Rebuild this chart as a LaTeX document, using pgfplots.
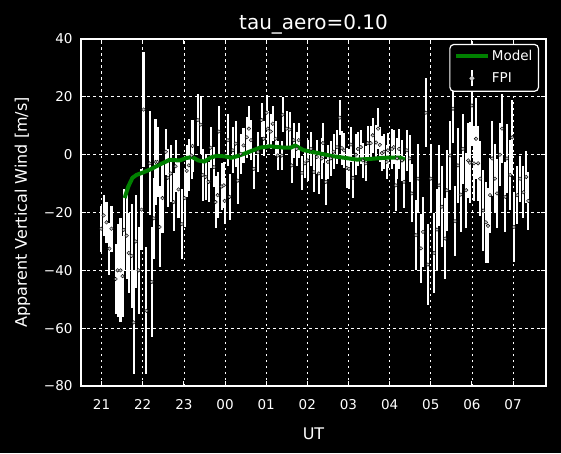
\documentclass[border=0pt]{standalone}
\usepackage{pgfplots}
\pgfplotsset{compat=1.18}
\usepackage{pgfplotstable}
\usepackage{fontspec}
\setmainfont{DejaVu Sans}
\definecolor{mgreen}{rgb}{0,0.5,0}
\definecolor{mgray}{rgb}{0.78,0.78,0.78}

\pgfplotstableread{
x y e
20.99 -25.6 8
21.05 -21 7
21.12 -23.4 7
21.19 -32.5 9
21.24 -25.6 8
21.34 -43 12
21.39 -40 16
21.46 -40 18
21.51 -42 14
21.54 -26 14
21.61 -28 15
21.66 -34 14
21.73 -35 18
21.78 -58 18
21.83 -30 16
21.90 -40 15
21.97 -19 14
22.02 15.6 20
22.09 -54 22
22.17 -3 18
22.22 -44 19
22.27 -22 14
22.31 -2.5 15
22.36 -2.5 12
22.41 -25 14
22.48 -15 12
22.56 1 8
22.61 -8 10
22.68 -6.5 10
22.75 -16.4 10
22.80 -4 9
22.87 -12 10
22.95 -24 12
23.02 -15 10
23.07 -5.6 9
23.12 -3.7 9
23.19 -0.3 8
23.21 3 9
23.34 12 9
23.41 10.4 10
23.46 -7 9
23.53 -7.7 8
23.60 -9.4 7
23.65 2.4 7
23.73 -4.3 7
23.77 -16.4 9
23.82 -14 8
23.85 8 9
23.92 -11 8
23.97 -10.6 8
23.99 -16 8
24.07 5 9
24.11 -14.6 8
24.19 1.5 8
24.26 3.8 8
24.31 -9 8
24.38 0.3 7
24.45 3.2 6
24.53 6 7
24.58 9 8
24.63 5 7
24.70 -4.9 7
24.80 0.9 7
24.89 12 6
24.94 5.5 6
25.01 14.5 6
25.04 9 6
25.11 8 6
25.16 10.7 6
25.23 5.5 6
25.28 -0.3 5
25.38 -0.3 5
25.40 13.8 6
25.50 9 6
25.57 8.7 6
25.62 -3.7 6
25.67 5 6
25.74 2 6
25.79 5 6
25.87 -6.3 6
25.94 -3 5
26.01 -2 7
26.09 2 6
26.16 -6 7
26.23 -0.8 6
26.28 -6.5 7
26.35 -1.3 7
26.38 4 7
26.45 -9.4 8
26.50 -2.5 6
26.57 -1.3 6
26.64 1 6
26.72 2.6 6
26.79 12.8 6
26.84 2.3 6
26.89 1.5 6
26.96 -4.6 7
27.01 -4.9 7
27.06 3.5 6
27.11 -8 7
27.18 0 7
27.23 2 6
27.30 2.6 6
27.35 -2 6
27.42 -3 6
27.47 4 6
27.54 4 6
27.59 6.7 6
27.67 4.2 6
27.72 9 7
27.76 3.4 6
27.81 0.5 6
27.86 1 6
27.93 -2.5 6
27.96 1.5 6
28.06 2 7
28.10 2.6 6
28.15 -10.6 9
28.18 -1.3 7
28.23 2 7
28.30 -2 7
28.35 -9.4 9
28.42 1.5 7
28.49 -1.3 8
28.54 -13.4 10
28.64 -27.8 12
28.69 -8.3 12
28.76 -32.4 12
28.81 -26.7 12
28.88 14.5 12
28.93 -38 14
29.00 -8.3 12
29.08 -34 14
29.15 -25.9 14
29.20 -10.6 14
29.27 -18 14
29.35 -29 14
29.39 -12.3 14
29.47 -0.3 12
29.54 15.9 12
29.59 -23 12
29.66 -3.7 13
29.73 -13.8 13
29.78 2 12
29.86 -12.3 13
29.91 -2 13
29.95 -2.8 14
30.00 17 14
30.05 -3 13
30.10 5.5 14
30.15 -3 13
30.20 -8.3 13
30.27 -19.3 14
30.34 -23.4 14
30.39 -24.6 13
30.44 -14 13
30.49 -1.3 13
30.56 -8.3 12
30.61 -13.4 12
30.68 0 11
30.73 9 12
30.81 -14.6 12
30.85 -1.3 12
30.93 -7 12
30.98 6 13
31.02 -25 12
31.10 -14 10
31.17 -8.3 8
31.25 -13 9
31.32 -7.7 9
31.37 -16 10
}\fpi

\pgfplotstableread{
x y
21.56 -15
21.65 -11
21.75 -8
21.85 -7
22.00 -6.2
22.20 -5
22.40 -3.5
22.55 -2.5
22.65 -1.8
22.90 -2
23.05 -1.2
23.20 -0.8
23.35 -2
23.50 -2.4
23.65 -1
23.80 -0.4
24.00 -0.6
24.15 -1.1
24.30 -0.5
24.50 0.5
24.77 2
24.84 2.4
25.09 2.9
25.45 2.4
25.60 2.4
25.70 3.2
25.90 1.6
26.10 1
26.38 0.2
26.60 -0.5
26.86 -1
27.20 -1.7
27.50 -1.5
27.76 -1.2
28.00 -1
28.25 -1
28.37 -1.7
}\model

\begin{document}
\begin{tikzpicture}
\fill[black] (-81pt,-67pt) rectangle (480pt,386pt);
\begin{axis}[
  at={(0pt,0pt)}, anchor=south west,
  width=465pt, height=347pt, scale only axis,
  xmin=20.5, xmax=31.8, ymin=-80, ymax=40,
  xtick={21,...,31},
  xticklabels={21,22,23,00,01,02,03,04,05,06,07},
  ytick={-80,-60,...,40},
  yticklabels={−80,−60,−40,−20,0,20,40},
  axis line style={white, line width=1.5pt},
  tick style={white, line width=1pt},
  major tick length=5pt,
  tick align=inside,
  tick pos=both,
  grid=major,
  major grid style={white, line width=0.7pt, dash pattern=on 2.5pt off 3.5pt},
  ticklabel style={text=white, font=\fontsize{13.5}{16}\selectfont},
  xticklabel style={yshift=-10pt},
  yticklabel style={xshift=-5pt},
  xlabel={UT}, ylabel={Apparent Vertical Wind [m/s]},
  label style={text=white, font=\fontsize{16}{19}\selectfont},
  xlabel style={yshift=-11pt},
  ylabel style={yshift=7pt},
  title={tau\_aero=0.10},
  title style={text=white, font=\fontsize{20}{24}\selectfont, yshift=-5pt},
  legend style={at={(rel axis cs:0.985,0.986)}, anchor=north east,
    fill=black, draw=white, line width=1.2pt, rounded corners=4pt,
    text=white, font=\fontsize{13.5}{16}\selectfont, row sep=5pt, inner ysep=4pt, inner xsep=4pt},
  legend cell align=left,
]
\addplot[forget plot, only marks, mark=*, mark size=1.8pt,
  mark options={fill=mgray, draw=none},
  error bars/.cd, y dir=both, y explicit,
  error bar style={white, line width=2.1pt}, error mark=none]
  table[x=x, y=y, y error=e] {\fpi};
\addplot[forget plot, mgreen, line width=4pt, line join=round] table[x=x, y=y] {\model};
\addlegendimage{legend image code/.code={\draw[mgreen, line width=4pt] (0pt,0pt) -- (32pt,0pt);}}
\addlegendentry{Model}
\addlegendimage{legend image code/.code={\draw[white, line width=2.1pt] (16pt,-8pt) -- (16pt,8pt); \fill[mgray] (16pt,0pt) circle (1.8pt);}}
\addlegendentry{FPI}
\end{axis}
\end{tikzpicture}
\end{document}
